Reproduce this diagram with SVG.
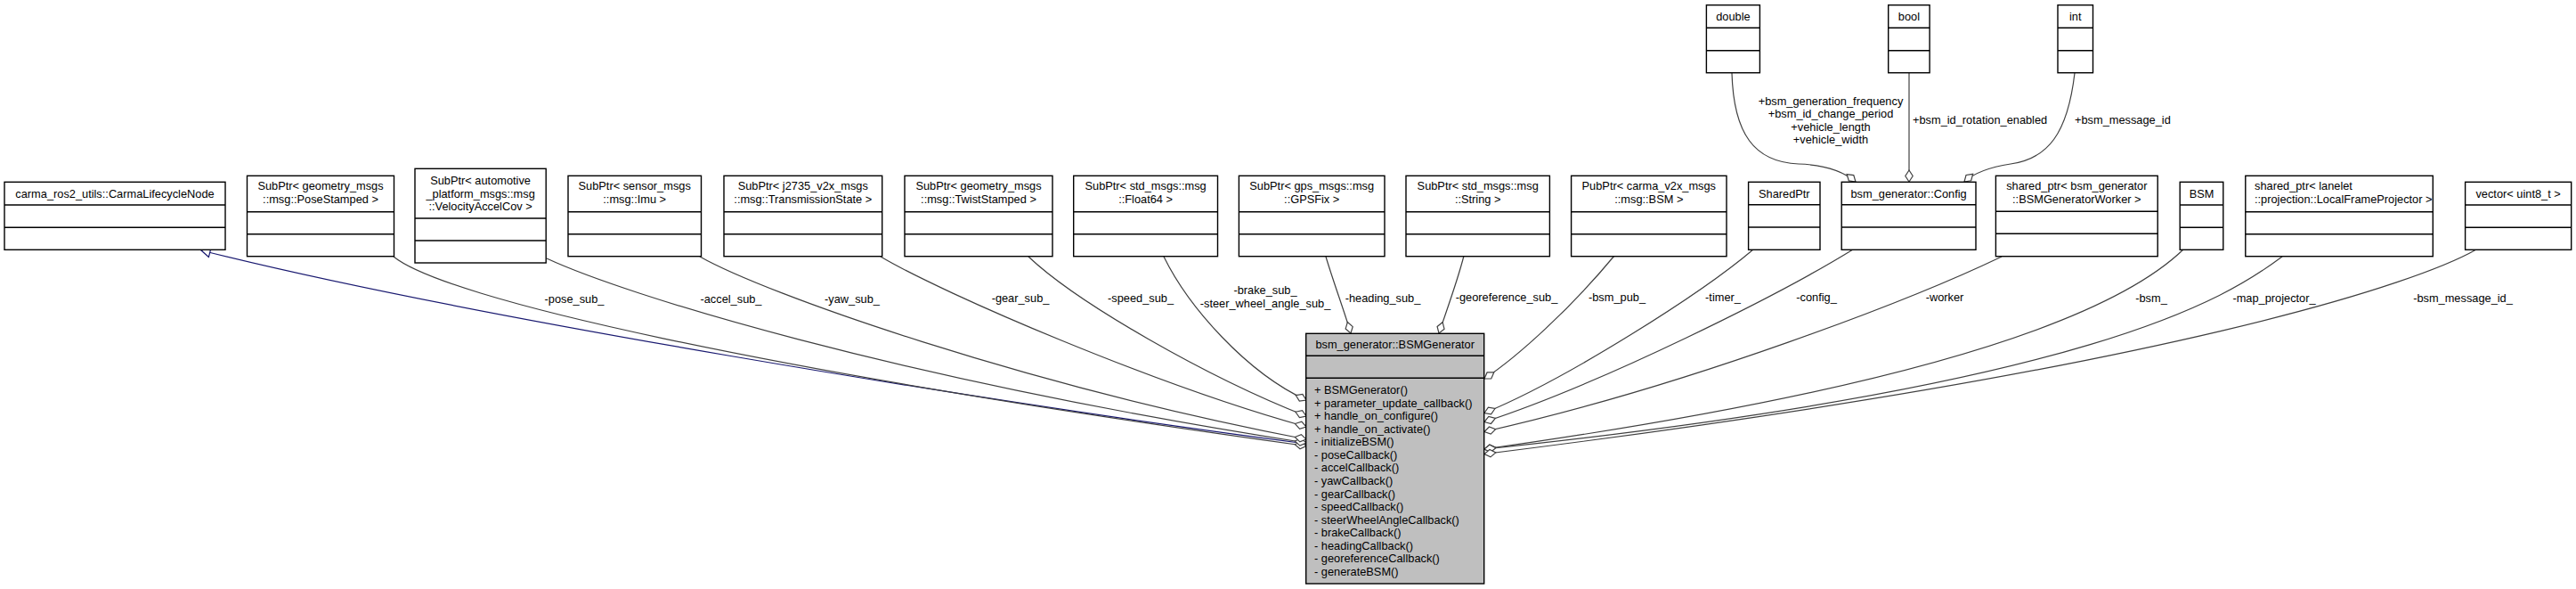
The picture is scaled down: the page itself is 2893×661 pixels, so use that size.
<svg xmlns="http://www.w3.org/2000/svg" width="2893" height="661" viewBox="0 0 2893 661">
<style>
text{font-family:"Liberation Sans",Arial,sans-serif;font-size:12.8px;fill:#000}
.c{text-anchor:middle}
.box rect{fill:#fff;stroke:#000;stroke-width:1.4}
.box line{stroke:#000;stroke-width:1.4}
#n_main rect{fill:#bfbfbf}
.e{fill:none;stroke:#404040;stroke-width:1.2;marker-end:url(#dia)}
.inh{fill:none;stroke:#191970;stroke-width:1.2;marker-end:url(#tri)}
</style>
<defs>
<marker id="dia" markerUnits="userSpaceOnUse" markerWidth="16" markerHeight="12" refX="14" refY="6" orient="auto" overflow="visible"><path d="M1,6 L7.5,1.8 L14,6 L7.5,10.2 Z" fill="#fff" stroke="#404040" stroke-width="1.2"/></marker>
<marker id="tri" markerUnits="userSpaceOnUse" markerWidth="14" markerHeight="12" refX="11" refY="6" orient="auto" overflow="visible"><path d="M1,0.8 L11,6 L1,11.2 Z" fill="#fff" stroke="#191970" stroke-width="1.2"/></marker>
</defs>

<g id="connectors">
<path class="inh" d="M1467,498 C1100,450 520,355 226,281"/>
<path class="e" d="M442,288 C500,335 850,415 1467,500.5"/>
<path class="e" d="M614,290 C700,330 1000,424 1467,497"/>
<path class="e" d="M786,288 C860,330 1150,432 1467,493"/>
<path class="e" d="M989,288 C1060,330 1300,433 1467,479"/>
<path class="e" d="M1155,288 C1210,340 1355,423 1467,467"/>
<path class="e" d="M1307,288 C1335,345 1400,418 1467,449"/>
<path class="e" d="M1489,288 C1497,315 1510,350 1517,374"/>
<path class="e" d="M1644,287 C1637,315 1624,350 1616,374"/>
<path class="e" d="M1813,287 C1765,345 1705,400 1667,425"/>
<path class="e" d="M1969,280 C1910,330 1760,425 1667,463.5"/>
<path class="e" d="M2081,280 C2000,330 1800,430 1667,473.5"/>
<path class="e" d="M2248,288 C2150,335 1900,432 1667,484.5"/>
<path class="e" d="M2452,280 C2400,330 2250,422 1667,504"/>
<path class="e" d="M2563,288 C2500,335 2350,432 1667,504"/>
<path class="e" d="M2781,280 C2720,315 2450,412 1667,509.5"/>
<path class="e" d="M1945,82 C1947,150 1970,182 2020,184 C2050,185 2070,192 2084,204"/>
<path class="e" d="M2144,82 L2144,204"/>
<path class="e" d="M2330,82 C2322,150 2300,178 2258,184 C2232,188 2216,195 2206,204"/>
<text x="645" y="339.5" class="c">-pose_sub_</text>
<text x="821" y="339.5" class="c">-accel_sub_</text>
<text x="957" y="339.5" class="c">-yaw_sub_</text>
<text x="1146" y="338.5" class="c">-gear_sub_</text>
<text x="1281" y="338.5" class="c">-speed_sub_</text>
<text x="1421" y="330.3" class="c">-brake_sub_</text>
<text x="1421" y="345.3" class="c">-steer_wheel_angle_sub_</text>
<text x="1553" y="338.5" class="c">-heading_sub_</text>
<text x="1692" y="338" class="c">-georeference_sub_</text>
<text x="1816" y="338" class="c">-bsm_pub_</text>
<text x="1935" y="338" class="c">-timer_</text>
<text x="2040" y="338" class="c">-config_</text>
<text x="2184" y="338" class="c">-worker</text>
<text x="2416" y="338.5" class="c">-bsm_</text>
<text x="2554" y="338.5" class="c">-map_projector_</text>
<text x="2766" y="338.5" class="c">-bsm_message_id_</text>
<text x="2056" y="117.9" class="c">+bsm_generation_frequency</text>
<text x="2056" y="132.3" class="c">+bsm_id_change_period</text>
<text x="2056" y="146.9" class="c">+vehicle_length</text>
<text x="2056" y="161.3" class="c">+vehicle_width</text>
<text x="2148" y="138.9">+bsm_id_rotation_enabled</text>
<text x="2330" y="138.9">+bsm_message_id</text>
</g>

<g id="n_carma" class="box">
<rect x="5" y="204.3" width="248" height="76"/>
<line x1="5" y1="230" x2="253" y2="230"/><line x1="5" y1="255.3" x2="253" y2="255.3"/>
<text x="129" y="221.8" class="c">carma_ros2_utils::CarmaLifecycleNode</text>
</g>
<g id="n_pose" class="box">
<rect x="277.5" y="197.3" width="165" height="90.4"/>
<line x1="277.5" y1="237.7" x2="442.5" y2="237.7"/><line x1="277.5" y1="262.7" x2="442.5" y2="262.7"/>
<text x="360" y="213" class="c">SubPtr&lt; geometry_msgs</text>
<text x="360" y="227.5" class="c">::msg::PoseStamped &gt;</text>
</g>
<g id="n_velaccel" class="box">
<rect x="466" y="189.3" width="147.2" height="105.7"/>
<line x1="466" y1="245" x2="613.2" y2="245"/><line x1="466" y1="270" x2="613.2" y2="270"/>
<text x="539.6" y="207" class="c">SubPtr&lt; automotive</text>
<text x="539.6" y="221.5" class="c">_platform_msgs::msg</text>
<text x="539.6" y="236" class="c">::VelocityAccelCov &gt;</text>
</g>
<g id="n_imu" class="box">
<rect x="638" y="197.3" width="149.5" height="90.4"/>
<line x1="638" y1="237.7" x2="787.5" y2="237.7"/><line x1="638" y1="262.7" x2="787.5" y2="262.7"/>
<text x="712.7" y="213" class="c">SubPtr&lt; sensor_msgs</text>
<text x="712.7" y="227.5" class="c">::msg::Imu &gt;</text>
</g>
<g id="n_trans" class="box">
<rect x="813" y="197.3" width="177.7" height="90.4"/>
<line x1="813" y1="237.7" x2="990.7" y2="237.7"/><line x1="813" y1="262.7" x2="990.7" y2="262.7"/>
<text x="901.8" y="213" class="c">SubPtr&lt; j2735_v2x_msgs</text>
<text x="901.8" y="227.5" class="c">::msg::TransmissionState &gt;</text>
</g>
<g id="n_twist" class="box">
<rect x="1016" y="197.3" width="166" height="90.4"/>
<line x1="1016" y1="237.7" x2="1182" y2="237.7"/><line x1="1016" y1="262.7" x2="1182" y2="262.7"/>
<text x="1099" y="213" class="c">SubPtr&lt; geometry_msgs</text>
<text x="1099" y="227.5" class="c">::msg::TwistStamped &gt;</text>
</g>
<g id="n_float" class="box">
<rect x="1205.7" y="197.3" width="161.8" height="90.4"/>
<line x1="1205.7" y1="237.7" x2="1367.5" y2="237.7"/><line x1="1205.7" y1="262.7" x2="1367.5" y2="262.7"/>
<text x="1286.6" y="213" class="c">SubPtr&lt; std_msgs::msg</text>
<text x="1286.6" y="227.5" class="c">::Float64 &gt;</text>
</g>
<g id="n_gps" class="box">
<rect x="1391.4" y="197.3" width="163.6" height="90.4"/>
<line x1="1391.4" y1="237.7" x2="1555" y2="237.7"/><line x1="1391.4" y1="262.7" x2="1555" y2="262.7"/>
<text x="1473.2" y="213" class="c">SubPtr&lt; gps_msgs::msg</text>
<text x="1473.2" y="227.5" class="c">::GPSFix &gt;</text>
</g>
<g id="n_string" class="box">
<rect x="1579" y="197.3" width="161.4" height="90.4"/>
<line x1="1579" y1="237.7" x2="1740.4" y2="237.7"/><line x1="1579" y1="262.7" x2="1740.4" y2="262.7"/>
<text x="1659.7" y="213" class="c">SubPtr&lt; std_msgs::msg</text>
<text x="1659.7" y="227.5" class="c">::String &gt;</text>
</g>
<g id="n_pub" class="box">
<rect x="1764.6" y="197.3" width="174.4" height="90.4"/>
<line x1="1764.6" y1="237.7" x2="1939" y2="237.7"/><line x1="1764.6" y1="262.7" x2="1939" y2="262.7"/>
<text x="1851.8" y="213" class="c">PubPtr&lt; carma_v2x_msgs</text>
<text x="1851.8" y="227.5" class="c">::msg::BSM &gt;</text>
</g>
<g id="n_sharedptr" class="box">
<rect x="1963.6" y="204.3" width="80.4" height="76"/>
<line x1="1963.6" y1="229.8" x2="2044" y2="229.8"/><line x1="1963.6" y1="255" x2="2044" y2="255"/>
<text x="2003.8" y="221.6" class="c">SharedPtr</text>
</g>
<g id="n_config" class="box">
<rect x="2068.2" y="204.3" width="150.8" height="76"/>
<line x1="2068.2" y1="229.8" x2="2219" y2="229.8"/><line x1="2068.2" y1="255" x2="2219" y2="255"/>
<text x="2143.6" y="221.6" class="c">bsm_generator::Config</text>
</g>
<g id="n_worker" class="box">
<rect x="2241.4" y="197.3" width="181.8" height="90.4"/>
<line x1="2241.4" y1="237.2" x2="2423.2" y2="237.2"/><line x1="2241.4" y1="262.3" x2="2423.2" y2="262.3"/>
<text x="2332.3" y="213" class="c">shared_ptr&lt; bsm_generator</text>
<text x="2332.3" y="227.5" class="c">::BSMGeneratorWorker &gt;</text>
</g>
<g id="n_bsm" class="box">
<rect x="2448.2" y="204.3" width="48.6" height="76"/>
<line x1="2448.2" y1="230" x2="2496.8" y2="230"/><line x1="2448.2" y1="255.3" x2="2496.8" y2="255.3"/>
<text x="2472.5" y="221.6" class="c">BSM</text>
</g>
<g id="n_projector" class="box">
<rect x="2521.8" y="197.3" width="210.5" height="90.4"/>
<line x1="2521.8" y1="237.7" x2="2732.3" y2="237.7"/><line x1="2521.8" y1="262.7" x2="2732.3" y2="262.7"/>
<text x="2532" y="213">shared_ptr&lt; lanelet</text>
<text x="2532" y="227.5">::projection::LocalFrameProjector &gt;</text>
</g>
<g id="n_vector" class="box">
<rect x="2768.6" y="204.3" width="119.1" height="76"/>
<line x1="2768.6" y1="230" x2="2887.7" y2="230"/><line x1="2768.6" y1="255.3" x2="2887.7" y2="255.3"/>
<text x="2828.1" y="221.6" class="c">vector&lt; uint8_t &gt;</text>
</g>
<g id="n_double" class="box">
<rect x="1916.4" y="5.7" width="60" height="76"/>
<line x1="1916.4" y1="31.3" x2="1976.4" y2="31.3"/><line x1="1916.4" y1="56.7" x2="1976.4" y2="56.7"/>
<text x="1946.4" y="23" class="c">double</text>
</g>
<g id="n_bool" class="box">
<rect x="2120.7" y="5.7" width="46.4" height="76"/>
<line x1="2120.7" y1="31.3" x2="2167.1" y2="31.3"/><line x1="2120.7" y1="56.7" x2="2167.1" y2="56.7"/>
<text x="2143.9" y="23" class="c">bool</text>
</g>
<g id="n_int" class="box">
<rect x="2311" y="5.7" width="39.5" height="76"/>
<line x1="2311" y1="31.3" x2="2350.5" y2="31.3"/><line x1="2311" y1="56.7" x2="2350.5" y2="56.7"/>
<text x="2330.7" y="23" class="c">int</text>
</g>
<g id="n_main" class="box">
<rect x="1466.7" y="374.3" width="200" height="280.7"/>
<line x1="1466.7" y1="399.3" x2="1666.7" y2="399.3"/><line x1="1466.7" y1="424.3" x2="1666.7" y2="424.3"/>
<text x="1566.7" y="391.4" class="c">bsm_generator::BSMGenerator</text>
<text x="1476" y="442.3">+ BSMGenerator()</text>
<text x="1476" y="456.8">+ parameter_update_callback()</text>
<text x="1476" y="471.3">+ handle_on_configure()</text>
<text x="1476" y="485.9">+ handle_on_activate()</text>
<text x="1476" y="500.4">- initializeBSM()</text>
<text x="1476" y="514.9">- poseCallback()</text>
<text x="1476" y="529.4">- accelCallback()</text>
<text x="1476" y="543.9">- yawCallback()</text>
<text x="1476" y="558.5">- gearCallback()</text>
<text x="1476" y="573">- speedCallback()</text>
<text x="1476" y="587.5">- steerWheelAngleCallback()</text>
<text x="1476" y="602">- brakeCallback()</text>
<text x="1476" y="616.5">- headingCallback()</text>
<text x="1476" y="631.1">- georeferenceCallback()</text>
<text x="1476" y="645.6">- generateBSM()</text>
</g>
</svg>
